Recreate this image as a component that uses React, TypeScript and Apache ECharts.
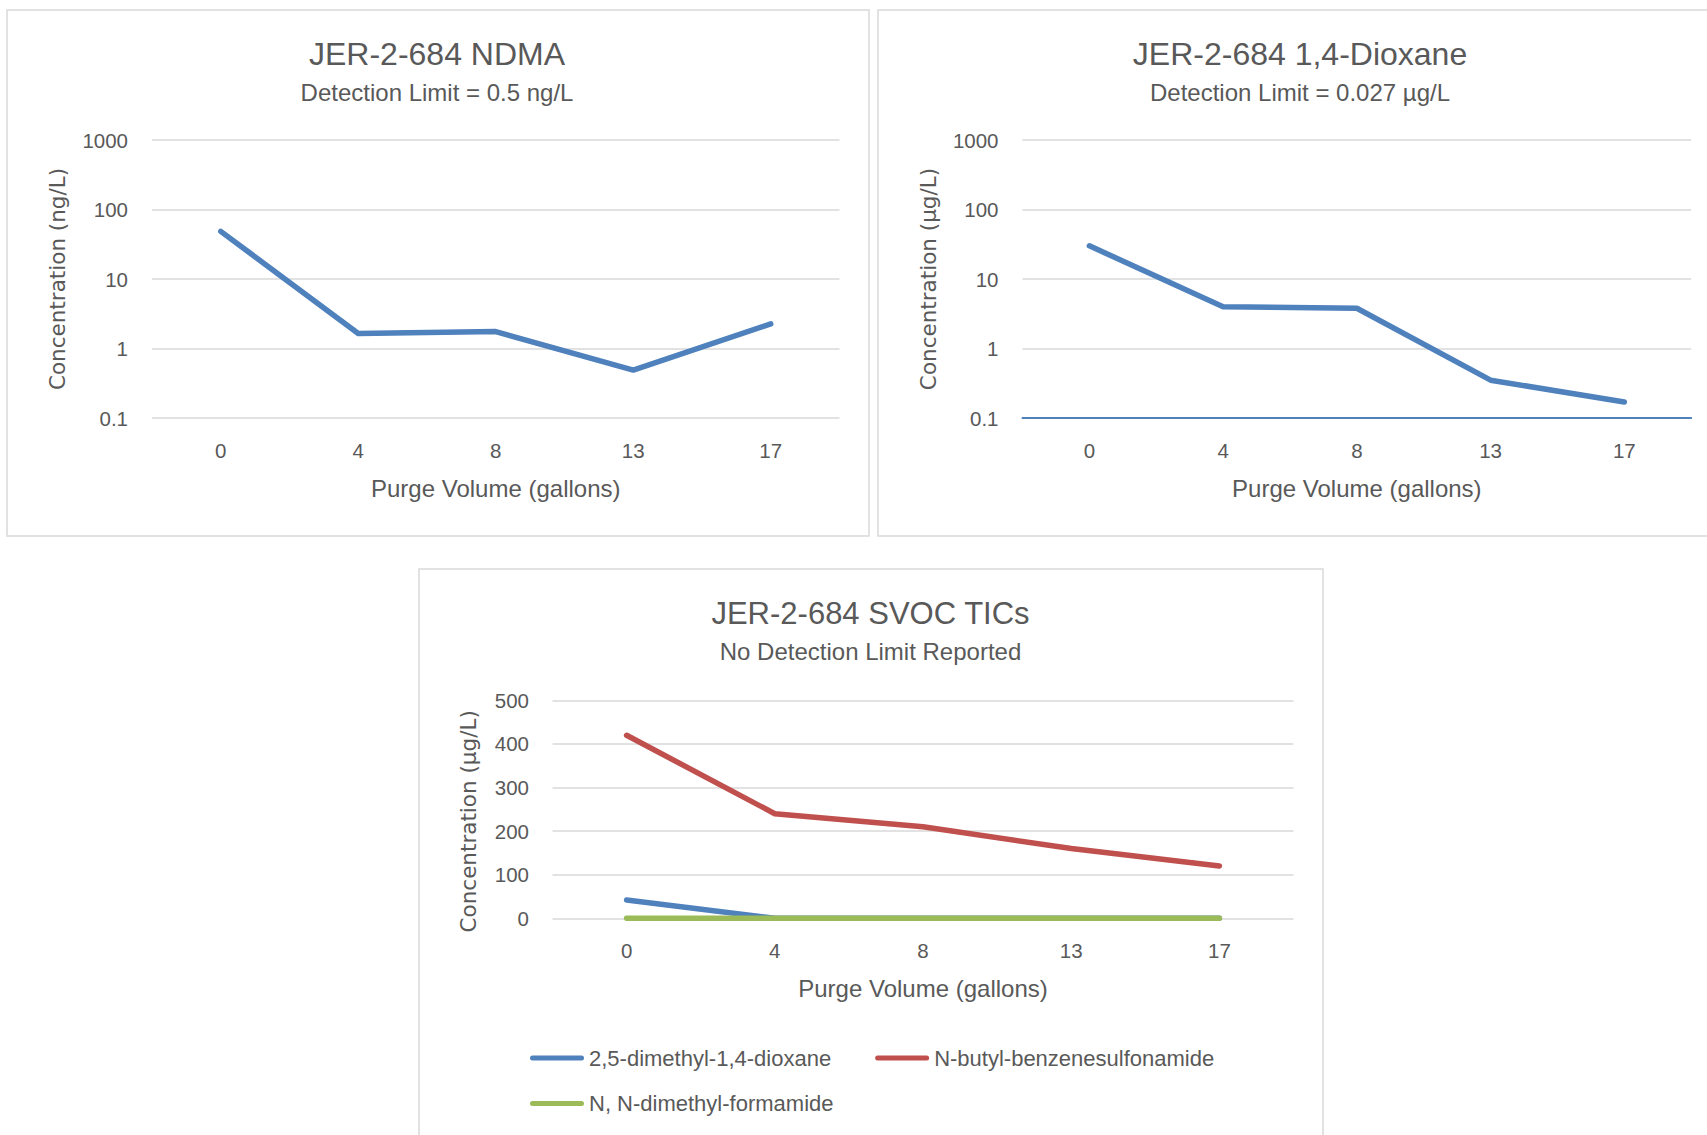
import React, { useEffect, useRef } from "react";
import * as echarts from "echarts";

const categories = ["0", "4", "8", "13", "17"];
const ndmaValues = [48.5, 1.64, 1.75, 0.49, 2.26];
const dioxaneValues = [30, 4.0, 3.8, 0.35, 0.17];
const dimethylDioxane = [42, 0, 0, 0, 0];
const butylBenzenesulfonamide = [420, 240, 210, 160, 120];
const dimethylFormamide = [0, 0, 0, 0, 0];
const logTicks = [0.1, 1, 10, 100, 1000];
const linearTicks = [0, 100, 200, 300, 400, 500];

const seriesNames = [
  "2,5-dimethyl-1,4-dioxane",
  "N-butyl-benzenesulfonamide",
  "N, N-dimethyl-formamide",
];

const TEXT = "#595959";
const GRID = "#D9D9D9";
const BLUE = "#4F81BD";
const RED = "#C0504D";
const GREEN = "#9BBB59";
const SANS = "'Liberation Sans', Arial, sans-serif";
const WIDE = "'DejaVu Sans', Verdana, sans-serif";

const capsule = "path://M2.5,0 H51.5 A2.5,2.5 0 0 1 51.5,5 H2.5 A2.5,2.5 0 0 1 2.5,0 Z";

function fmtLog(v: number) {
  return v < 1 ? v.toFixed(1) : String(Math.round(v));
}

export default function App() {
  const ref = useRef<HTMLDivElement>(null);
  useEffect(() => {
    if (!ref.current) return;
    const chart = echarts.init(ref.current, undefined, { renderer: "svg" });

    const titleBase = (text: string, sub: string, x: number, top: number, size: number) => ({
      text,
      subtext: sub,
      left: x,
      top,
      textAlign: "center",
      textVerticalAlign: "top",
      padding: 0,
      itemGap: 6.5,
      textStyle: { fontFamily: SANS, fontSize: size, fontWeight: "normal", color: TEXT, lineHeight: 36 },
      subtextStyle: { fontFamily: SANS, fontSize: 24, color: TEXT, lineHeight: 28 },
    });

    const xAxisBase = (gridIndex: number, margin: number, lineShow: boolean, lineColor: string) => ({
      type: "category",
      gridIndex,
      data: categories,
      boundaryGap: true,
      z: 3,
      axisTick: { show: false },
      axisLine: { show: lineShow, lineStyle: { color: lineColor, width: 2 } },
      axisLabel: { fontFamily: SANS, fontSize: 20.5, color: TEXT, margin },
      name: "Purge Volume (gallons)",
      nameLocation: "middle",
      nameGap: 58,
      nameTextStyle: { fontFamily: SANS, fontSize: 24, color: TEXT, lineHeight: 24 },
    });

    const yName = (unit: string, gap: number, padding?: number[]) => ({
      name: `Concentration (${unit})`,
      nameLocation: "middle",
      nameGap: gap,
      nameTextStyle: {
        fontFamily: WIDE,
        fontSize: 21.5,
        color: TEXT,
        lineHeight: 23,
        padding: padding || 0,
      },
    });

    const logY = (gridIndex: number, unit: string, gap: number) => ({
      type: "log",
      logBase: 10,
      gridIndex,
      min: logTicks[0],
      max: logTicks[logTicks.length - 1],
      axisLine: { show: false },
      axisTick: { show: false },
      splitLine: { show: true, lineStyle: { color: GRID, width: 1.5 } },
      axisLabel: { fontFamily: SANS, fontSize: 20.5, color: TEXT, margin: 24, formatter: fmtLog },
      ...yName(unit, gap),
    });

    const lineSeries = (name: string, data: number[], color: string, xi: number, yi: number) => ({
      type: "line",
      name,
      data,
      xAxisIndex: xi,
      yAxisIndex: yi,
      showSymbol: false,
      symbol: "none",
      color,
      lineStyle: { color, width: 5.5, cap: "round", join: "round" },
      z: 5,
    });

    const option: any = {
      animation: false,
      backgroundColor: "#ffffff",
      title: [
        titleBase("JER-2-684 NDMA", "Detection Limit = 0.5 ng/L", 437, 35.5, 32),
        titleBase("JER-2-684 1,4-Dioxane", "Detection Limit = 0.027 µg/L", 1300, 35.5, 32),
        titleBase("JER-2-684 SVOC TICs", "No Detection Limit Reported", 870.5, 595, 31),
      ],
      graphic: [
        { type: "rect", shape: { x: 7, y: 10, width: 862, height: 526 }, style: { fill: "none", stroke: GRID, lineWidth: 1.5 }, silent: true },
        { type: "rect", shape: { x: 878, y: 10, width: 862, height: 526 }, style: { fill: "none", stroke: GRID, lineWidth: 1.5 }, silent: true },
        { type: "rect", shape: { x: 419, y: 569, width: 904, height: 620 }, style: { fill: "none", stroke: GRID, lineWidth: 1.5 }, silent: true },
      ],
      grid: [
        { left: 152, top: 140, width: 687.5, height: 278, containLabel: false },
        { left: 1022.5, top: 140, width: 668.7, height: 278, containLabel: false },
        { left: 552.5, top: 700.4, width: 741, height: 217.9, containLabel: false },
      ],
      xAxis: [
        xAxisBase(0, 22, false, GRID),
        xAxisBase(1, 22, true, BLUE),
        xAxisBase(2, 21.5, false, GRID),
      ],
      yAxis: [
        logY(0, "ng/L", 83),
        logY(1, "µg/L", 82.3),
        {
          type: "value",
          gridIndex: 2,
          min: linearTicks[0],
          max: linearTicks[linearTicks.length - 1],
          interval: linearTicks[1] - linearTicks[0],
          axisLine: { show: false },
          axisTick: { show: false },
          splitLine: { show: true, lineStyle: { color: GRID, width: 1.5 } },
          axisLabel: { fontFamily: SANS, fontSize: 20.5, color: TEXT, margin: 23.5 },
          ...yName("µg/L", 72.3, [0, 24, 0, 0]),
        },
      ],
      legend: [
        {
          data: [seriesNames[0], seriesNames[1]],
          left: 530,
          top: 1047,
          padding: 0,
          itemWidth: 54,
          itemHeight: 5,
          itemGap: 44,
          icon: capsule,
          textStyle: { fontFamily: SANS, fontSize: 22, color: TEXT, lineHeight: 22 },
        },
        {
          data: [seriesNames[2]],
          left: 530,
          top: 1092.5,
          padding: 0,
          itemWidth: 54,
          itemHeight: 5,
          icon: capsule,
          textStyle: { fontFamily: SANS, fontSize: 22, color: TEXT, lineHeight: 22 },
        },
      ],
      series: [
        lineSeries("NDMA", ndmaValues, BLUE, 0, 0),
        lineSeries("1,4-Dioxane", dioxaneValues, BLUE, 1, 1),
        lineSeries(seriesNames[0], dimethylDioxane, BLUE, 2, 2),
        lineSeries(seriesNames[1], butylBenzenesulfonamide, RED, 2, 2),
        lineSeries(seriesNames[2], dimethylFormamide, GREEN, 2, 2),
      ],
    };

    chart.setOption(option);
    return () => chart.dispose();
  }, []);

  return (
    <div
      ref={ref}
      style={{ position: "absolute", left: 0, top: 0, width: 1707, height: 1135, background: "#fff" }}
    />
  );
}
